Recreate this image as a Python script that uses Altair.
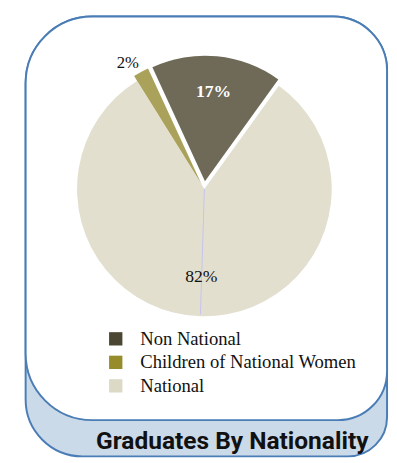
import math
import altair as alt
import pandas as pd

# ---- data ----
categories = ["Non National", "National", "Children of National Women"]
values = [17, 82, 2]
labels = ["17%", "82%", "2%"]
pie_colors = ["#6e6a57", "#e2dfcf", "#aaa15a"]

legend_order = ["Non National", "Children of National Women", "National"]
legend_colors = ["#4b4631", "#968c2b", "#dcd9c6"]

title_text = "Graduates By Nationality"

# ---- derived table ----
ends = []
acc = 0
for v in values:
    acc += v
    ends.append(acc)
starts = [e - v for e, v in zip(ends, values)]
df = pd.DataFrame({
    "cat": categories,
    "value": values,
    "label": labels,
    "start": starts,
    "end": ends,
    "mid": [(s + e) / 2 for s, e in zip(starts, ends)],
})
leg_df = pd.DataFrame({"cat": legend_order})
one = pd.DataFrame({"k": [0]})

total = sum(values)
start_angle = math.radians(-24.8)
theta_scale = alt.Scale(domain=[0, total], range=[start_angle, start_angle + 2 * math.pi])

W, H = 389, 455
CX, CY = 200.5, 180  # pie centre (chart coords)
BORDER = "#4a7db5"

# ---- frame ----
blue_box = alt.Chart(one).mark_rect(
    fill="#cbdae9", stroke=BORDER, strokeWidth=2,
    cornerRadiusTopLeft=68, cornerRadiusTopRight=55,
    cornerRadiusBottomLeft=58, cornerRadiusBottomRight=40,
).encode(x=alt.value(18), x2=alt.value(387), y=alt.value(4), y2=alt.value(453))

white_box = alt.Chart(one).mark_rect(
    fill="white", stroke=BORDER, strokeWidth=2,
    cornerRadiusTopLeft=68, cornerRadiusTopRight=55,
    cornerRadiusBottomLeft=68, cornerRadiusBottomRight=50,
).encode(x=alt.value(18), x2=alt.value(387), y=alt.value(4), y2=alt.value(416))

# ---- pie slices ----
def slice_layer(cat, color, dx, dy, r):
    return alt.Chart(df).transform_filter(alt.datum.cat == cat).mark_arc(
        outerRadius=r, color=color
    ).encode(
        x=alt.value(CX + dx), y=alt.value(CY + dy),
        theta=alt.Theta("start:Q", scale=theta_scale),
        theta2="end:Q",
    )

nat = slice_layer("National", pie_colors[1], 0, 0, 130)
non = slice_layer("Non National", pie_colors[0], 0.6, -8, 128)
chi = slice_layer("Children of National Women", pie_colors[2], -3, -5, 130)

# thin leader line inside the National slice
leader = alt.Chart(one).mark_rule(color="#c4c4ee", strokeWidth=1).encode(
    x=alt.value(CX), x2=alt.value(CX - 4), y=alt.value(CY), y2=alt.value(CY + 128)
)

# ---- labels ----
def label_layer(cat, r, color, size, bold, dx=0, dy=0, ox=0, oy=0):
    return alt.Chart(df).transform_filter(alt.datum.cat == cat).mark_text(
        font="Liberation Serif", fontSize=size, fontWeight="bold" if bold else "normal",
        color=color, baseline="middle", align="center", dx=dx, dy=dy,
    ).encode(
        x=alt.value(CX + ox), y=alt.value(CY + oy),
        theta=alt.Theta("mid:Q", scale=theta_scale),
        radius=alt.value(r),
        text="label:N",
    )

lab_non = label_layer("Non National", 91, "white", 18, True, ox=0.6, oy=-8)
lab_nat = label_layer("National", 90, "#111111", 18, False)
lab_chi = label_layer("Children of National Women", 150, "#111111", 17, False, dx=-7, dy=3)

# ---- legend ----
leg_y = alt.Y("cat:N", sort=legend_order, axis=None,
              scale=alt.Scale(type="point", range=[333, 381], padding=0))
leg_sq = alt.Chart(leg_df).mark_square(size=185, opacity=1).encode(
    x=alt.value(110),
    y=leg_y,
    color=alt.Color("cat:N", scale=alt.Scale(domain=legend_order, range=legend_colors), legend=None),
)
leg_tx = alt.Chart(leg_df).mark_text(
    font="Liberation Serif", fontSize=19, align="left", baseline="middle", color="#111111"
).encode(x=alt.value(135), y=leg_y, text="cat:N")

# ---- bottom title ----
title = alt.Chart(one).mark_text(
    text=title_text, font="Roboto",
    fontSize=25, fontWeight="bold", align="center", baseline="alphabetic", color="#111111",
).encode(x=alt.value(229), y=alt.value(445))

chart = alt.layer(
    blue_box, white_box, nat, non, chi, leader, lab_non, lab_nat, lab_chi, leg_sq, leg_tx, title
).resolve_scale(color="independent").properties(
    width=W, height=H, padding=0,
    autosize=alt.AutoSizeParams(type="fit", contains="padding"),
).configure_view(stroke=None)

chart.save("out.html", embed_options={"renderer": "svg", "actions": False})
